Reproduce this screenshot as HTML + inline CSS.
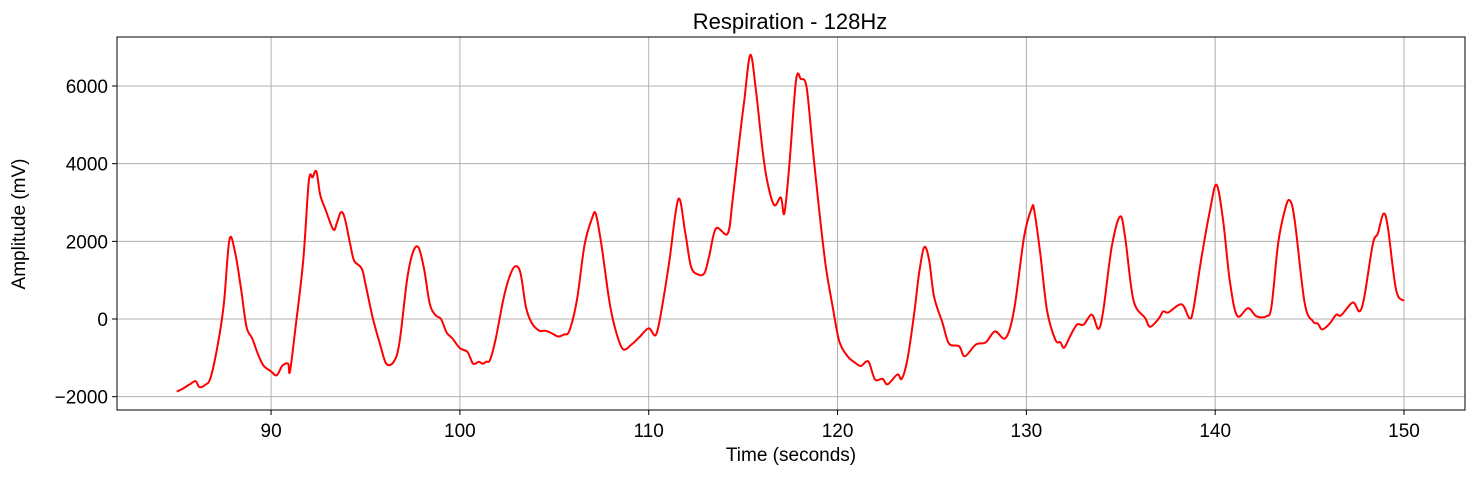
<!DOCTYPE html>
<html><head><meta charset="utf-8"><style>
body{margin:0;background:#fff;}
svg text{font-family:"Liberation Sans","DejaVu Sans",sans-serif;fill:#000;}
</style></head><body>
<svg id="chart" width="1475" height="475" viewBox="0 0 1475 475" xmlns="http://www.w3.org/2000/svg">
<text x="790" y="29" text-anchor="middle" font-size="22">Respiration - 128Hz</text>
<g id="grid"></g>
<g id="ticks"></g>
<path id="trace" fill="none" stroke="#ff0000" stroke-width="2" stroke-linejoin="round"></path>
<rect x="117" y="37" width="1348" height="373" fill="none" stroke="#000" stroke-width="1"/>
<text x="791" y="461" text-anchor="middle" font-size="19">Time (seconds)</text>
<text transform="translate(25,224) rotate(-90)" text-anchor="middle" font-size="19">Amplitude (mV)</text>
</svg>
<script>
const times=[85.0,85.3,85.7,86.0,86.2,86.5,86.8,87.2,87.5,87.8,88.1,88.4,88.7,89.0,89.3,89.6,90.0,90.3,90.6,90.9,91.0,91.3,91.7,92.0,92.2,92.4,92.6,92.9,93.3,93.5,93.7,93.9,94.2,94.4,94.8,95.0,95.4,95.8,96.1,96.5,96.8,97.2,97.5,97.8,98.1,98.4,98.7,99.0,99.3,99.6,100.0,100.4,100.7,101.0,101.2,101.4,101.6,101.9,102.3,102.6,102.9,103.2,103.5,103.8,104.2,104.5,104.8,105.2,105.5,105.8,106.2,106.6,107.0,107.2,107.5,107.9,108.2,108.62,109.1,109.5,110.0,110.39,110.74,111.1,111.57,111.94,112.24,112.6,112.95,113.2,113.56,114.18,114.44,114.8,115.06,115.38,115.68,116.03,116.3,116.65,117.0,117.18,117.44,117.8,118.06,118.36,118.68,119.03,119.38,119.74,120.09,120.53,120.88,121.23,121.5,121.68,121.99,122.38,122.65,123.17,123.4,123.7,124.06,124.32,124.59,124.85,125.11,125.56,125.9,126.44,126.74,127.32,127.85,128.34,128.9,129.35,129.88,130.28,130.42,130.74,131.09,131.53,131.8,132.0,132.32,132.68,133.03,133.47,133.82,134.08,134.52,134.96,135.23,135.67,136.29,136.55,136.99,137.25,137.52,138.22,138.63,138.84,139.28,139.72,140.07,140.42,140.77,141.16,141.74,142.18,142.71,142.98,143.33,143.68,143.94,144.21,144.74,145.18,145.44,145.67,146.06,146.41,146.67,147.29,147.64,147.9,148.35,148.61,148.91,149.14,149.58,150.0];
const values=[-1870,-1800,-1680,-1600,-1750,-1700,-1500,-600,400,2050,1700,800,-200,-500,-900,-1200,-1350,-1450,-1200,-1150,-1350,-200,1500,3550,3650,3800,3200,2800,2300,2500,2750,2600,1900,1500,1300,900,0,-700,-1150,-1100,-600,1000,1700,1850,1300,400,100,0,-350,-500,-750,-850,-1150,-1100,-1150,-1100,-1050,-500,500,1050,1350,1200,300,-100,-300,-300,-350,-450,-400,-300,500,1900,2600,2700,1900,500,-200,-770,-650,-470,-240,-400,410,1520,3090,2200,1350,1150,1180,1610,2330,2200,3060,4600,5630,6800,5880,4340,3490,2930,3130,2720,3920,6140,6180,5970,4430,2800,1350,325,-570,-960,-1110,-1210,-1100,-1130,-1560,-1540,-1680,-1430,-1540,-1040,150,1180,1850,1520,580,-100,-630,-700,-960,-660,-600,-320,-490,240,2120,2850,2790,1680,240,-530,-600,-740,-440,-145,-145,110,-255,240,1855,2640,2110,490,25,-200,0,195,170,380,25,240,1600,2790,3455,2540,1000,85,280,70,70,325,1940,2790,3060,2540,410,-60,-120,-270,-120,110,95,425,195,580,1940,2200,2710,2370,750,470];
const xTicks=[90,100,110,120,130,140,150];
const yTicks=[-2000,0,2000,4000,6000];
const yTickLabels=["\u22122000","0","2000","4000","6000"];
const X0=117,X1=1465,Y0=410,Y1=37,TMIN=81.84,TMAX=153.23,VMIN=-2343,VMAX=7262;
function sx(t){return X0+(t-TMIN)/(TMAX-TMIN)*(X1-X0);}
function sy(v){return Y0-(v-VMIN)/(VMAX-VMIN)*(Y0-Y1);}
const NS="http://www.w3.org/2000/svg";
const grid=document.getElementById('grid'),ticks=document.getElementById('ticks');
function mk(tag,attrs,parent){const e=document.createElementNS(NS,tag);for(const k in attrs)e.setAttribute(k,attrs[k]);parent.appendChild(e);return e;}
xTicks.forEach(t=>{
  const x=sx(t);
  const g=mk('line',{x1:x,x2:x,y1:Y1,y2:Y0,stroke:'#b0b0b0','stroke-width':1},grid);
  
  
  const tk=mk('line',{x1:x,x2:x,y1:Y0,y2:Y0+5,stroke:'#000'},ticks);
  
  
  const lb=mk('text',{x:x,y:Y0+27,'text-anchor':'middle','font-size':19},ticks);
  lb.textContent=t;
  
  
});
yTicks.forEach((v,i)=>{
  const y=sy(v);
  const g=mk('line',{x1:X0,x2:X1,y1:y,y2:y,stroke:'#b0b0b0','stroke-width':1},grid);
  
  
  const tk=mk('line',{x1:X0-5,x2:X0,y1:y,y2:y,stroke:'#000'},ticks);
  
  
  const lb=mk('text',{x:X0-9,y:y+7,'text-anchor':'end','font-size':19},ticks);
  lb.textContent=yTickLabels[i];
  
  
});
const pts=times.map((t,i)=>[sx(t),sy(values[i])]);
let d='M'+pts[0][0].toFixed(1)+','+pts[0][1].toFixed(1);
for(let i=0;i<pts.length-1;i++){
  const p0=pts[Math.max(0,i-1)],p1=pts[i],p2=pts[i+1],p3=pts[Math.min(pts.length-1,i+2)];
  const c1x=p1[0]+(p2[0]-p0[0])/6,c1y=p1[1]+(p2[1]-p0[1])/6;
  const c2x=p2[0]-(p3[0]-p1[0])/6,c2y=p2[1]-(p3[1]-p1[1])/6;
  d+=' C'+c1x.toFixed(1)+','+c1y.toFixed(1)+' '+c2x.toFixed(1)+','+c2y.toFixed(1)+' '+p2[0].toFixed(1)+','+p2[1].toFixed(1);
}
document.getElementById('trace').setAttribute('d',d);
</script>
</body></html>
